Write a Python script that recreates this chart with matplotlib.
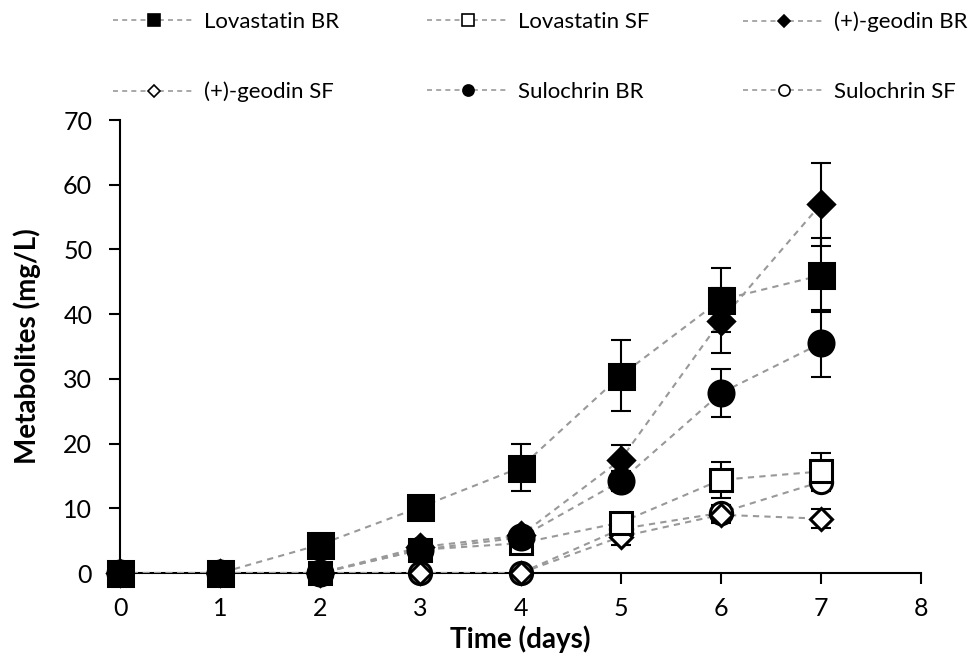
import numpy as np
import matplotlib
matplotlib.use('Agg')
import matplotlib.pyplot as plt

plt.rcParams['font.family'] = ['Lato', 'DejaVu Sans']

days = [0, 1, 2, 3, 4, 5, 6, 7]

lova_br = [0, 0, 4.4, 10.2, 16.3, 30.5, 42.2, 46.0]
lova_br_err = [0, 0, 0.5, 0.5, 3.7, 5.5, 5.0, 5.7]
lova_sf = [0, 0, 0, 3.6, 4.6, 7.8, 14.4, 15.7]
lova_sf_err = [0, 0, 0, 0.5, 0.6, 1.0, 2.8, 2.8]
geo_br = [0, 0, 0, 4.0, 5.8, 17.5, 39.0, 57.0]
geo_br_err = [0, 0, 0, 0.6, 0.8, 2.3, 5.0, 6.4]
geo_sf = [0, 0, 0, 0, 0, 5.6, 9.0, 8.4]
geo_sf_err = [0, 0, 0, 0, 0, 1.2, 1.3, 1.5]
sul_br = [0, 0, 0, 3.6, 5.5, 14.2, 27.8, 35.5]
sul_br_err = [0, 0, 0, 0.5, 0.7, 1.5, 3.7, 5.2]
sul_sf = [0, 0, 0, 0, 0, 6.8, 9.3, 14.1]
sul_sf_err = [0, 0, 0, 0, 0, 1.0, 1.2, 1.5]

# name, values, errors, marker, face, size, stacking order
series = [
    ('Lovastatin BR', lova_br, lova_br_err, 's', 'black', 18, 9),
    ('Lovastatin SF', lova_sf, lova_sf_err, 's', 'white', 16, 6),
    ('(+)-geodin BR', geo_br, geo_br_err, 'D', 'black', 13, 7),
    ('(+)-geodin SF', geo_sf, geo_sf_err, 'D', 'white', 11, 5),
    ('Sulochrin BR', sul_br, sul_br_err, 'o', 'black', 18, 8),
    ('Sulochrin SF', sul_sf, sul_sf_err, 'o', 'white', 16, 4),
]

# legend entry anchors (pixels from top-left)
leg_x = [113, 427, 743]
leg_y = [22, 92]

fig = plt.figure(figsize=(9.71, 6.65), dpi=100)
ax = fig.add_axes([0.1236, 0.1383, 0.8249, 0.6812])

dash = (0, (3, 2.5))
for i, (name, vals, err, mk, fc, ms, z) in enumerate(series):
    ax.errorbar(days, vals, yerr=err, fmt='none', ecolor='black', elinewidth=1.5,
                capsize=7, capthick=1.5, zorder=2)
    ax.plot(days, vals, linestyle=dash, color='#999999', linewidth=1.5, zorder=1)
    ax.plot(days, vals, linestyle='none', marker=mk, markersize=ms, markerfacecolor=fc,
            markeredgecolor='black', markeredgewidth=2.2, zorder=z, clip_on=False)
    h, = ax.plot([], [], linestyle=dash, color='#999999', linewidth=1.2,
                 marker=mk, markersize=8 if mk != 'D' else 6, markerfacecolor=fc,
                 markeredgecolor='black', markeredgewidth=1.2)
    lx = leg_x[i % 3] / 971
    ly = 1 - leg_y[i // 3] / 665
    fig.legend([h], [name], loc='center left', bbox_to_anchor=(lx, ly),
               frameon=False, fontsize=16, handlelength=3.7, handletextpad=0.4,
               borderpad=0, borderaxespad=0, numpoints=1)

ax.set_xlim(0, 8)
ax.set_ylim(0, 70)
ax.set_xticks(range(0, 9))
ax.set_yticks(range(0, 71, 10))
ax.spines['top'].set_visible(False)
ax.spines['right'].set_visible(False)
for s in ('left', 'bottom'):
    ax.spines[s].set_linewidth(1.5)
    ax.spines[s].set_zorder(0)
ax.tick_params(axis='both', direction='out', length=8, width=1.5, labelsize=18)
ax.tick_params(axis='x', pad=9)
ax.tick_params(axis='y', pad=12)
ax.set_xlabel('Time (days)', fontsize=20, fontweight='bold', labelpad=4)
ax.set_ylabel('Metabolites (mg/L)', fontsize=20, fontweight='bold', labelpad=16)

fig.savefig('out.png', dpi=100)
